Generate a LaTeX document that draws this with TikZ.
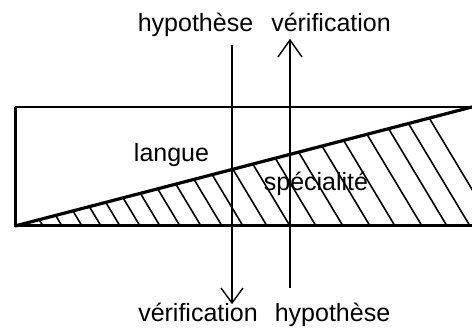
\documentclass[tikz,border=0pt]{standalone}
\usepackage{fontspec}
\setmainfont{Liberation Sans}
\usetikzlibrary{arrows.meta}
\begin{document}
\begin{tikzpicture}[x=1pt,y=-1pt,
  lbl/.style={font=\fontsize{25}{30}\selectfont, anchor=base, inner sep=0pt},
  frame/.style={line width=3pt, line cap=butt},
  topedge/.style={line width=2.3pt},
  diag/.style={line width=3.2pt},
  hatch/.style={line width=1.6pt},
  axis/.style={line width=1.4pt},
  vhead/.style={line width=1.4pt, line join=miter}]
\useasboundingbox (0,0) rectangle (472,334);
\begin{scope}
\clip (0,0) rectangle (472,334);
% corners
\coordinate (tl) at (15,107);
\coordinate (bl) at (15,226);
\coordinate (br) at (480,226);
\coordinate (tr) at (480,107);
\coordinate (dr) at (480,104.9);
% hatching
\begin{scope}
\clip (bl) -- (br) -- (dr) -- cycle;
\foreach \xb in {43,62,82,101,120,140,160,180,201,222,243,267,290,316,343,370,395,422,447,470,494}
  \draw[hatch] (\xb,226) -- ++(-78,-130);
\end{scope}
% frame
\draw[topedge] (tl) -- (tr);
\draw[frame] (tl) -- (bl) -- (br);
\draw[diag] (bl) -- (dr);
\end{scope}
% labels
\node[lbl] (lang) at (171.5,162) {langue};
\node[lbl] (spec) at (316,190.5) {spécialité};
\node[lbl] (h1) at (195.5,32) {hypothèse};
\node[lbl] (v1) at (331,32) {vérification};
\node[lbl] (v2) at (198,322) {vérification};
\node[lbl] (h2) at (332.5,322) {hypothèse};
% axes
\coordinate (a1s) at (232,45);
\coordinate (a1e) at (232,303);
\coordinate (a2s) at (290,288);
\coordinate (a2e) at (290,40);
\draw[axis] (a1s) -- (a1e);
\draw[axis] (a2s) -- (a2e);
\draw[vhead] (a1e) ++(-11,-15) -- (a1e) -- ++(11,-15);
\draw[vhead] (a2e) ++(-12,17) -- (a2e) -- ++(12,17);
\end{tikzpicture}
\end{document}
